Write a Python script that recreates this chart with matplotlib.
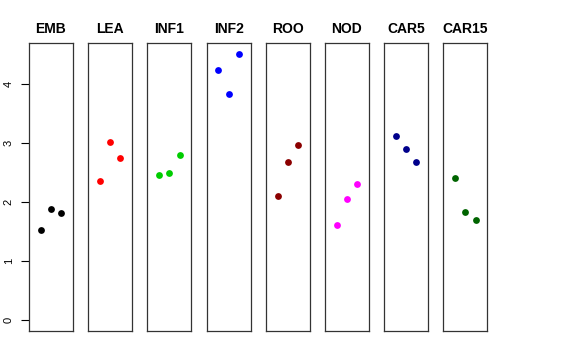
import matplotlib.pyplot as plt

groups = ['EMB', 'LEA', 'INF1', 'INF2', 'ROO', 'NOD', 'CAR5', 'CAR15']
values = [
    [1.52, 1.88, 1.82],
    [2.35, 3.02, 2.75],
    [2.45, 2.50, 2.79],
    [4.24, 3.83, 4.51],
    [2.11, 2.67, 2.96],
    [1.61, 2.05, 2.31],
    [3.12, 2.89, 2.68],
    [2.41, 1.84, 1.69],
]
colors = ['black', 'red', '#00CD00', 'blue', '#8B0000', 'magenta', '#00008B', '#006400']
yticks = [0, 1, 2, 3, 4]

W, H = 576, 360
fig = plt.figure(figsize=(W / 100, H / 100), dpi=100)
plt.rcParams['font.family'] = ['Liberation Sans', 'DejaVu Sans']

for i, (name, vals, col) in enumerate(zip(groups, values, colors)):
    left = 29 + i * 59.2
    ax = fig.add_axes([left / W, 29 / H, 44 / W, 288 / H])
    ax.scatter([1, 2, 3], vals, s=24, color=col, linewidths=0, zorder=3)
    ax.set_xlim(-0.16, 4.16)
    ax.set_ylim(-0.18, 4.69)
    ax.set_xticks([])
    ax.set_title(name, fontsize=10, fontweight='bold', pad=7)
    for sp in ax.spines.values():
        sp.set_linewidth(0.9)
        sp.set_color('#333333')
    if i == 0:
        ax.set_yticks(yticks)
        ax.set_yticklabels([str(t) for t in yticks], rotation=90, va='center', fontsize=8)
        ax.tick_params(axis='y', length=6, width=0.8, pad=5)
    else:
        ax.set_yticks([])

fig.savefig('out.png', dpi=100)
